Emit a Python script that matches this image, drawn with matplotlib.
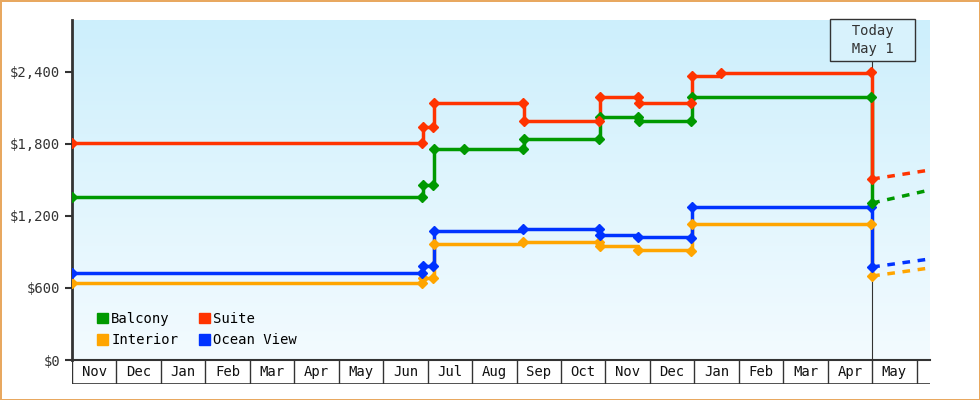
import numpy as np
import matplotlib.pyplot as plt
from matplotlib.patches import Patch
from matplotlib.colors import LinearSegmentedColormap

plt.rcParams['font.family'] = ['DejaVu Sans Mono']

months = ['Nov', 'Dec', 'Jan', 'Feb', 'Mar', 'Apr', 'May', 'Jun', 'Jul', 'Aug',
          'Sep', 'Oct', 'Nov', 'Dec', 'Jan', 'Feb', 'Mar', 'Apr', 'May']

# x in months since Nov 1; steps-post
balcony_x = [0, 7.87, 7.9, 8.12, 8.15, 8.82, 10.14, 10.16, 11.85, 11.87, 12.73, 12.75, 13.92, 13.94, 17.97, 18.0]
balcony_y = [1355, 1355, 1460, 1460, 1758, 1758, 1758, 1842, 1842, 2025, 2025, 1992, 1992, 2192, 2192, 1308]
suite_x = [0, 7.87, 7.9, 8.12, 8.15, 10.14, 10.16, 11.85, 11.87, 12.73, 12.75, 13.92, 13.94, 14.6, 17.97, 18.0]
suite_y = [1808, 1808, 1942, 1942, 2142, 2142, 1992, 1992, 2192, 2192, 2142, 2142, 2367, 2392, 2400, 1508]
interior_x = [0, 7.87, 7.9, 8.12, 8.15, 10.14, 11.85, 11.87, 12.73, 13.92, 13.94, 17.97, 18.0]
interior_y = [642, 642, 683, 683, 967, 983, 983, 950, 917, 908, 1133, 1133, 700]
ocean_x = [0, 7.87, 7.9, 8.12, 8.15, 10.14, 11.85, 11.87, 12.73, 13.92, 13.94, 17.97, 18.0]
ocean_y = [725, 725, 783, 783, 1075, 1092, 1092, 1042, 1025, 1017, 1275, 1275, 775]
# forecast (dashed) from today to chart edge
fc_x = [18.0, 19.3]
fc = {'Balcony': [1308, 1417], 'Suite': [1508, 1583], 'Interior': [700, 767], 'Ocean View': [775, 842]}

colors = {'Balcony': '#009900', 'Suite': '#ff3300', 'Interior': '#ffa500', 'Ocean View': '#0033ff'}
series = [('Interior', interior_x, interior_y), ('Ocean View', ocean_x, ocean_y),
          ('Balcony', balcony_x, balcony_y), ('Suite', suite_x, suite_y)]

fig = plt.figure(figsize=(9.8, 4), dpi=100)
fig.patch.set_edgecolor('#e8a860')
fig.patch.set_linewidth(2)
ax = fig.add_axes([72/980, 40/400, 858/980, 340/400])
xmax = 19.3
ymax = 2833
grad = np.linspace(0, 1, 256).reshape(-1, 1)
cmap = LinearSegmentedColormap.from_list('bg', ['#f3fbff', '#cdeffc'])
ax.imshow(grad, aspect='auto', cmap=cmap, origin='lower', extent=[0, xmax, 0, ymax], zorder=0)

for name, xs, ys in series:
    c = colors[name]
    ax.plot(xs, ys, drawstyle='steps-post', color=c, lw=2.5, zorder=3)
    ax.plot(xs, ys, 'D', color=c, ms=5, zorder=4)
    ax.plot(fc_x, fc[name], color=c, lw=2.5, dashes=(2.2, 2.2), zorder=3)

ax.axvline(18.0, ymax=2600/ymax, color='#333333', lw=0.8, zorder=2)
ax.text(18.0, 2667, '  Today  \n  May 1  ', ha='center', va='center', fontsize=10, color='#333333',
        linespacing=1.4, clip_on=False,
        bbox=dict(boxstyle='square,pad=0.35', fc='#d8f2fc', ec='#333333', lw=1), zorder=5)

ax.set_xlim(0, xmax)
ax.set_ylim(0, ymax)
ax.set_yticks([0, 600, 1200, 1800, 2400])
ax.set_yticklabels(['$0', '$600', '$1,200', '$1,800', '$2,400'], fontsize=10, color='#333333')
ax.set_xticks([])
for s in ['top', 'right']:
    ax.spines[s].set_visible(False)
ax.spines['left'].set_color('#333333')
ax.spines['left'].set_linewidth(2)
ax.spines['bottom'].set_color('#333333')
ax.spines['bottom'].set_linewidth(1.5)
ax.tick_params(axis='y', length=5, width=1.5, color='#333333')

handles = [Patch(color=colors[n]) for n in ['Balcony', 'Interior', 'Suite', 'Ocean View']]
ax.legend(handles, ['Balcony', 'Interior', 'Suite', 'Ocean View'], ncol=2, loc='lower left',
          bbox_to_anchor=(0.015, 0.0), frameon=False, fontsize=10, handlelength=0.8,
          handleheight=0.8, handletextpad=0.2, columnspacing=1.5, labelspacing=0.55)

# month boxes
mx = fig.add_axes([72/980, 16/400, 858/980, 24/400])
mx.set_xlim(0, xmax)
mx.set_ylim(0, 1)
mx.axis('off')
mx.plot([0, xmax], [0, 0], color='#333333', lw=1.2)
for i in range(len(months) + 1):
    mx.plot([i, i], [0, 1], color='#333333', lw=1)
for i, m in enumerate(months):
    mx.text(i + 0.5, 0.5, m, ha='center', va='center', fontsize=10, color='#111111')

fig.savefig('out.png', dpi=100, edgecolor=fig.get_edgecolor())
